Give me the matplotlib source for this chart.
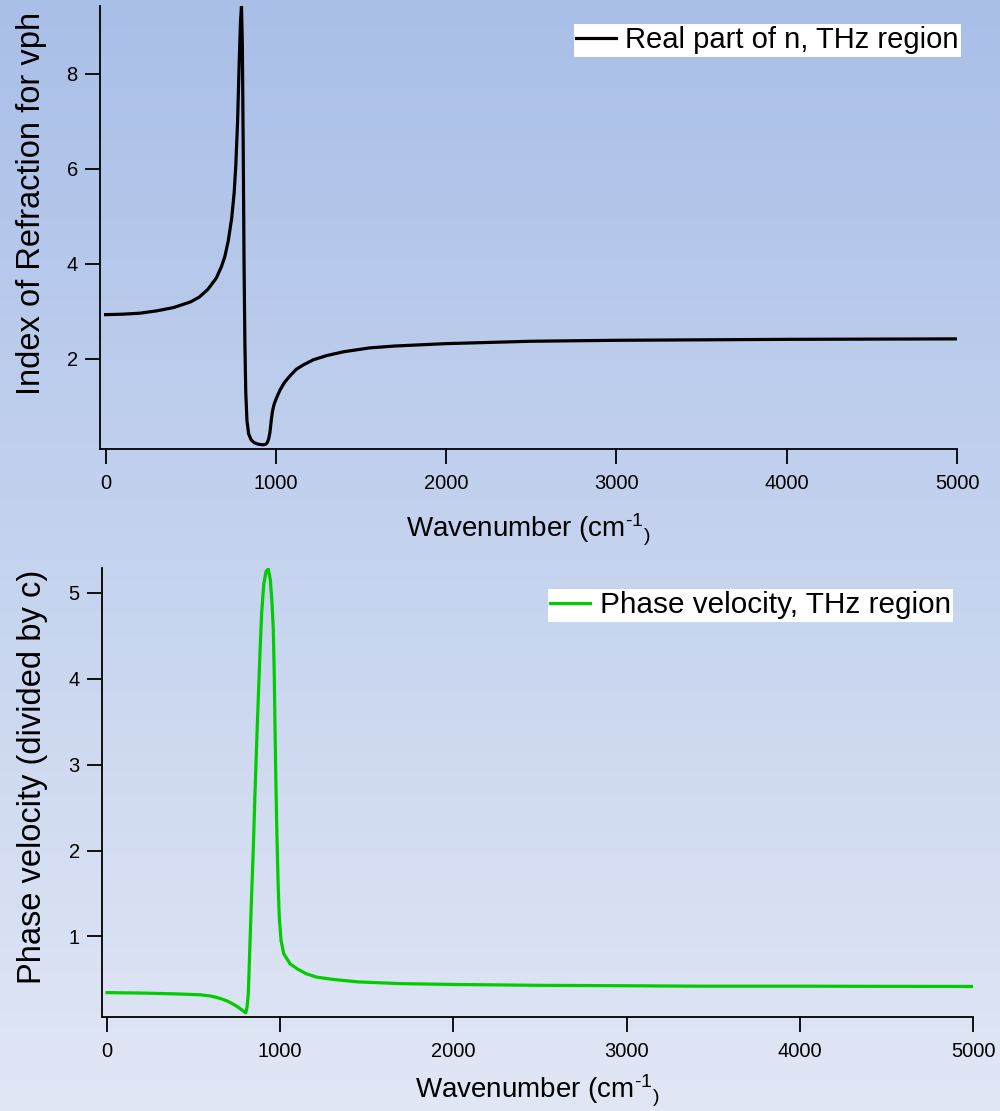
#!/usr/bin/env python3
"""Refractive index and phase velocity in the THz region (two stacked panels)."""
import numpy as np
import matplotlib
matplotlib.use('Agg')
import matplotlib.pyplot as plt
from matplotlib.colors import LinearSegmentedColormap

plt.rcParams['font.family'] = ['Liberation Sans', 'DejaVu Sans']
plt.rcParams['mathtext.fontset'] = 'custom'
plt.rcParams['mathtext.rm'] = 'Liberation Sans'
plt.rcParams['mathtext.it'] = 'Liberation Sans:italic'

# ---- data ----
wn_n = [0, 100, 200, 300, 400, 500, 550, 600, 650, 680,
        700, 720, 740, 755, 765, 775, 785, 792, 798, 803,
        808, 813, 818, 823, 830, 840, 855, 875, 900, 925,
        940, 950, 958, 965, 972, 980, 990, 1004, 1025, 1050,
        1080, 1120, 1160, 1220, 1300, 1400, 1550, 1700, 2000, 2500,
        3000, 3500, 4000, 4500, 5000]
n_real = [2.93, 2.94, 2.96, 3.01, 3.08, 3.20, 3.30, 3.46, 3.70, 3.94,
          4.15, 4.48, 4.95, 5.5, 6.1, 7.0, 8.3, 9.1, 9.43, 8.6,
          6.5, 4.0, 2.3, 1.3, 0.7, 0.42, 0.29, 0.23, 0.20, 0.19,
          0.20, 0.24, 0.32, 0.45, 0.68, 0.90, 1.05, 1.18, 1.35, 1.50,
          1.63, 1.78, 1.87, 1.98, 2.07, 2.15, 2.23, 2.27, 2.32, 2.37,
          2.39, 2.40, 2.41, 2.415, 2.42]

wn_v = [0, 200, 400, 537, 600, 650, 691, 730, 768, 790,
        801, 808, 816, 825, 835, 845, 854, 864, 874, 884,
        893, 905, 918, 931, 943, 952, 960, 965, 970, 975,
        980, 988, 995, 1005, 1020, 1057, 1100, 1150, 1211, 1300,
        1450, 1692, 2000, 2500, 3000, 3424, 4000, 4500, 5000]
v_phase = [0.345, 0.34, 0.33, 0.32, 0.305, 0.28, 0.25, 0.21, 0.16, 0.125,
           0.11, 0.17, 0.34, 0.9, 1.49, 2.05, 2.65, 3.25, 3.81, 4.35,
           4.77, 5.1, 5.25, 5.28, 5.15, 4.9, 4.58, 4.1, 3.42, 2.8,
           2.26, 1.6, 1.2, 0.95, 0.8, 0.68, 0.62, 0.565, 0.525, 0.5,
           0.47, 0.45, 0.44, 0.43, 0.425, 0.42, 0.42, 0.418, 0.417]

x_ticks = [0, 1000, 2000, 3000, 4000, 5000]
n_ticks = [2, 4, 6, 8]
v_ticks = [1, 2, 3, 4, 5]

XLABEL = r'Wavenumber (cm$^{\text{-1}}{}_{)}$'

fig = plt.figure(figsize=(10, 11.11), dpi=100)

# gradient background
bg = fig.add_axes([0, 0, 1, 1], zorder=-10)
cmap = LinearSegmentedColormap.from_list('bg', ['#e1e7f5', '#a9bfe8'])
grad = np.linspace(0, 1, 256).reshape(-1, 1)
bg.imshow(grad, aspect='auto', cmap=cmap, extent=[0, 1, 0, 1], origin='lower')
bg.axis('off')


def style_axes(ax):
    ax.set_facecolor('none')
    for s in ['top', 'right']:
        ax.spines[s].set_visible(False)
    for s in ['left', 'bottom']:
        ax.spines[s].set_linewidth(1.3)
    ax.tick_params(direction='out', length=11, width=1.3, labelsize=14.5)
    ax.tick_params(axis='x', pad=7)
    ax.tick_params(axis='y', pad=5)


# top panel: real part of n
ax1 = fig.add_axes([0.100, 0.596, 0.857, 0.3987])
style_axes(ax1)
ax1.plot(wn_n, n_real, color='black', lw=2.3, label='Real part of n, THz region')
ax1.set_xlim(-33, 5000)
ax1.set_ylim(0.105, 9.43)
ax1.set_xticks(x_ticks)
ax1.set_yticks(n_ticks)
ax1.set_xlabel(XLABEL, fontsize=20)
ax1.set_ylabel('Index of Refraction for vph', fontsize=23.5)
ax1.xaxis.set_label_coords(0.5, -0.143)
ax1.yaxis.set_label_coords(-0.062, 0.553)
leg1 = ax1.legend(loc='upper right', bbox_to_anchor=(0.961, 1 - 24 / 1111),
                  bbox_transform=fig.transFigure, fontsize=21, frameon=True,
                  fancybox=False, borderaxespad=0, borderpad=0.08,
                  handlelength=1.35, handletextpad=0.32)
leg1.get_frame().set_facecolor('white')
leg1.get_frame().set_edgecolor('none')
leg1.get_frame().set_alpha(1)

# bottom panel: phase velocity
ax2 = fig.add_axes([0.102, 0.0846, 0.871, 0.4041])
style_axes(ax2)
ax2.plot(wn_v, v_phase, color='#00cc00', lw=2.3, label='Phase velocity, THz region')
ax2.set_xlim(-29, 5000)
ax2.set_ylim(0.061, 5.29)
ax2.set_xticks(x_ticks)
ax2.set_yticks(v_ticks)
ax2.set_xlabel(XLABEL, fontsize=20)
ax2.set_ylabel('Phase velocity (divided by c)', fontsize=23.5)
ax2.xaxis.set_label_coords(0.5, -0.125)
ax2.yaxis.set_label_coords(-0.062, 0.535)
leg2 = ax2.legend(loc='upper right', bbox_to_anchor=(0.953, 1 - 589 / 1111),
                  bbox_transform=fig.transFigure, fontsize=21.4, frameon=True,
                  fancybox=False, borderaxespad=0, borderpad=0.08,
                  handlelength=1.35, handletextpad=0.32)
leg2.get_frame().set_facecolor('white')
leg2.get_frame().set_edgecolor('none')
leg2.get_frame().set_alpha(1)

plt.savefig('out.png', dpi=100)
